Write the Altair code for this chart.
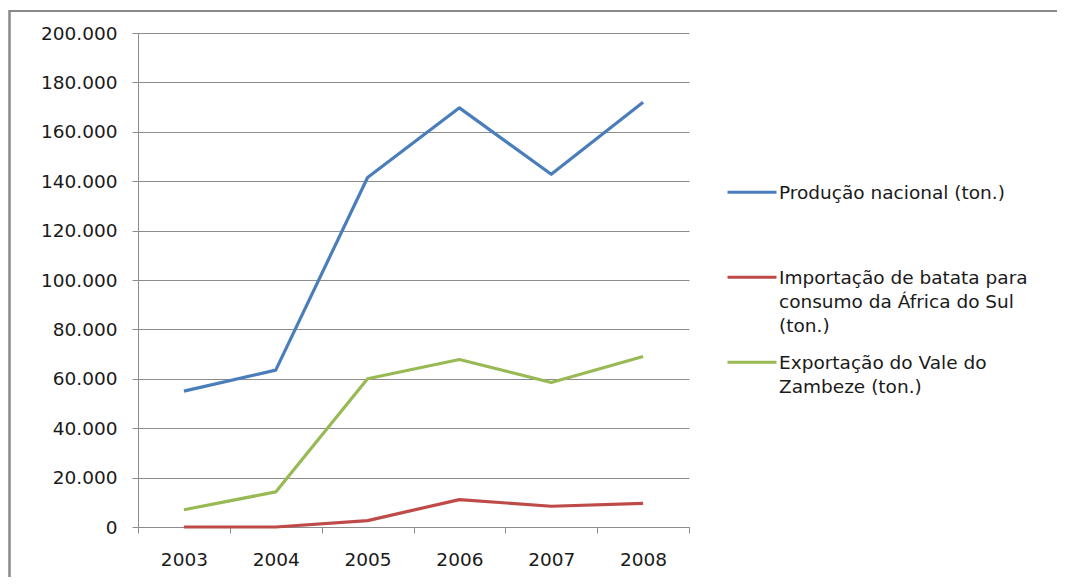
import altair as alt
import pandas as pd

years = [2003, 2004, 2005, 2006, 2007, 2008]
series_names = [
    "Produção nacional (ton.)",
    "Importação de batata para|consumo da África do Sul|(ton.)",
    "Exportação do Vale do|Zambeze (ton.)",
]
series_colors = ["#4A7EBB", "#BE4B48", "#98B954"]
producao = [55000, 63500, 141500, 169700, 142800, 172000]
importacao = [0, 0, 2600, 11100, 8400, 9600]
exportacao = [7000, 14200, 60000, 67800, 58500, 69000]

x_tick_values = [2002.5, 2003, 2003.5, 2004, 2004.5, 2005, 2005.5, 2006,
                 2006.5, 2007, 2007.5, 2008, 2008.5]
y_tick_values = [0, 20000, 40000, 60000, 80000, 100000, 120000, 140000,
                 160000, 180000, 200000]

rows = []
for name, vals in zip(series_names, [producao, importacao, exportacao]):
    for yr, v in zip(years, vals):
        rows.append({"ano": yr, "valor": v, "serie": name})
df = pd.DataFrame(rows)

GRAY = "#8c8c8c"
AXIS_FONT = "DejaVu Sans"

x_enc = alt.X(
    "ano:Q",
    scale=alt.Scale(domain=[2002.5, 2008.5], nice=False, zero=False),
    axis=alt.Axis(
        values=x_tick_values,
        labelExpr="datum.value % 1 == 0 ? format(datum.value, 'd') : ''",
        tickOpacity={"condition": {"test": "datum.value % 1 == 0", "value": 0}, "value": 1},
        grid=False,
        title=None,
        labelOverlap=False,
        labelFlush=False,
        tickSize=6,
        domainColor=GRAY,
        tickColor=GRAY,
        labelPadding=17,
        labelFont=AXIS_FONT,
        labelFontSize=18.5,
        labelColor="#1a1a1a",
    ),
)

y_enc = alt.Y(
    "valor:Q",
    scale=alt.Scale(domain=[0, 200000], nice=False),
    axis=alt.Axis(
        values=y_tick_values,
        labelExpr="replace(format(datum.value, ','), ',', '.')",
        grid=True,
        gridColor=GRAY,
        gridWidth=1,
        domainColor=GRAY,
        tickColor=GRAY,
        tickSize=6,
        labelPadding=15,
        title=None,
        labelFont=AXIS_FONT,
        labelFontSize=18.5,
        labelColor="#1a1a1a",
    ),
)

color_enc = alt.Color(
    "serie:N",
    scale=alt.Scale(domain=series_names, range=series_colors),
    legend=alt.Legend(
        orient="none",
        legendX=588,
        legendY=140,
        title=None,
        labelExpr="split(datum.label, '|')",
        symbolType="M -1 -0.28 L 1 -0.28",
        symbolSize=2401,
        symbolStrokeWidth=3,
        labelFont="DejaVu Sans",
        labelFontSize=18.5,
        labelColor="#1a1a1a",
        labelBaseline="alphabetic",
        labelOffset=1,
        labelLimit=400,
        gridAlign="all",
        rowPadding=7,
        padding=0,
    ),
)

lines = alt.Chart(df).mark_line(strokeWidth=3.2, strokeJoin="round").encode(
    x=x_enc, y=y_enc, color=color_enc
)

frame_df = pd.DataFrame({"k": [0]})
frame_top = alt.Chart(frame_df).mark_rule(color="#8a8a8a", strokeWidth=2).encode(
    x=alt.value(-129), x2=alt.value(1000), y=alt.value(-22)
)
frame_left = alt.Chart(frame_df).mark_rule(color="#8a8a8a", strokeWidth=2.5).encode(
    x=alt.value(-128.5), y=alt.value(-23), y2=alt.value(600)
)

chart = alt.layer(lines, frame_top, frame_left).properties(
    width=551,
    height=494,
    padding={"left": 130, "top": 25, "right": 368, "bottom": 50},
    autosize=alt.AutoSizeParams(type="none"),
).configure(
    style={"guide-label": {"lineHeight": 24}},
).configure_view(stroke="transparent")

chart.save("out.html", embed_options={"renderer": "svg", "actions": False})
